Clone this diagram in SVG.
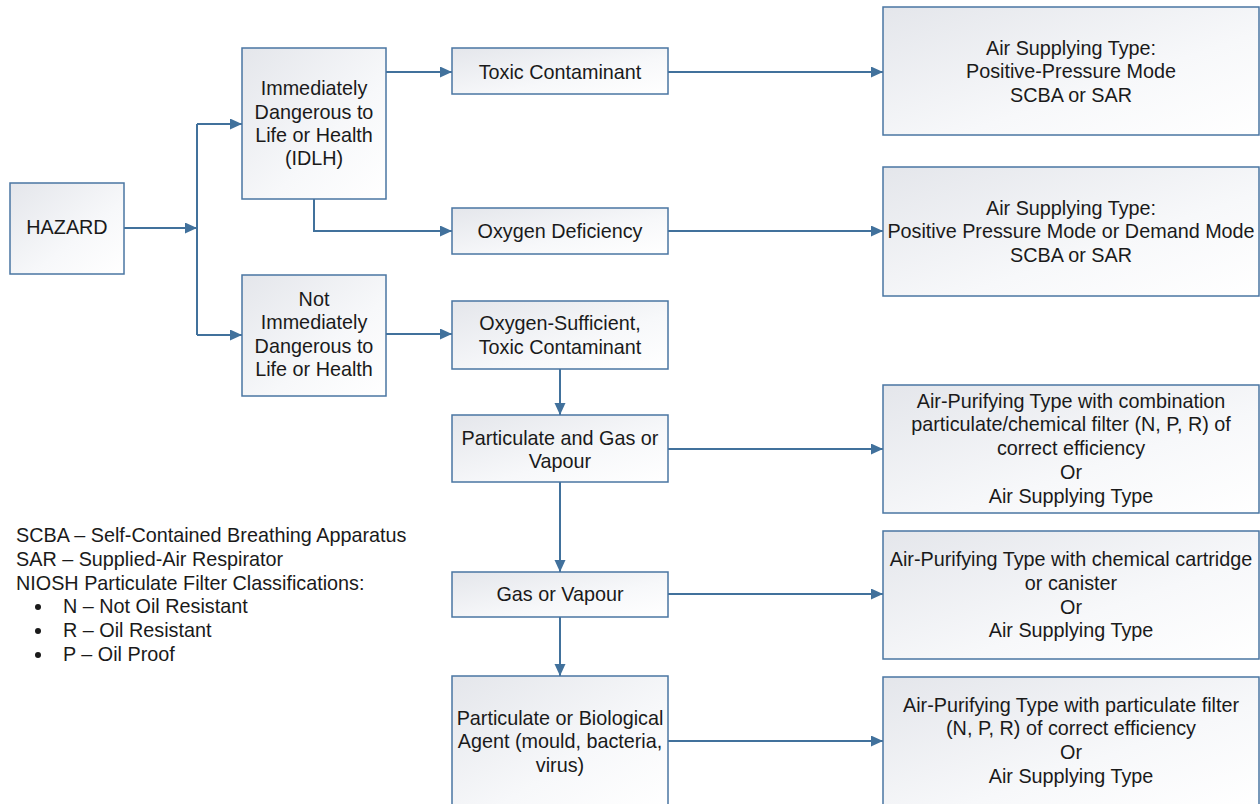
<svg xmlns="http://www.w3.org/2000/svg" width="1260" height="804" viewBox="0 0 1260 804">
<style>
.box{stroke:#4a76a2;stroke-width:1.5;fill:url(#g)}
.t{font-family:"Liberation Sans",Arial,sans-serif;font-size:19.8px;fill:#1a1a1a;text-anchor:middle}
.l{font-family:"Liberation Sans",Arial,sans-serif;font-size:19.8px;fill:#1a1a1a}
.c{stroke:#41719c;stroke-width:2;fill:none;marker-end:url(#a)}
</style>
<defs>
<linearGradient id="g" x1="0" y1="0" x2="1" y2="1">
<stop offset="0" stop-color="#e4e6eb"/>
<stop offset="0.6" stop-color="#f7f8fa"/>
<stop offset="1" stop-color="#ffffff"/>
</linearGradient>
<marker id="a" markerUnits="userSpaceOnUse" markerWidth="13" markerHeight="12" refX="12" refY="5.5" orient="auto">
<path d="M0,0 L12,5.5 L0,11 z" fill="#41719c"/>
</marker>
</defs>
<rect width="1260" height="804" fill="#ffffff"/>
<g id="connectors">
<path class="c" d="M124,228 H197"/>
<path d="M197,124 V335" stroke="#41719c" stroke-width="2" fill="none"/>
<path class="c" d="M197,124 H242"/>
<path class="c" d="M197,335 H242"/>
<path class="c" d="M386,72 H452"/>
<path class="c" d="M314,199 V231 H452"/>
<path class="c" d="M668,72 H883"/>
<path class="c" d="M668,231 H883"/>
<path class="c" d="M386,334 H452"/>
<path class="c" d="M560,369 V415"/>
<path class="c" d="M668,449 H883"/>
<path class="c" d="M560,482 V572"/>
<path class="c" d="M668,594 H883"/>
<path class="c" d="M560,617 V676"/>
<path class="c" d="M668,741 H883"/>
</g>
<g id="hazard"><rect class="box" x="10" y="183" width="114" height="91"/><text class="t" x="67" y="234">HAZARD</text></g>
<g id="idlh"><rect class="box" x="242" y="48" width="144" height="151"/>
<text class="t" x="314" y="95">Immediately</text><text class="t" x="314" y="119">Dangerous to</text><text class="t" x="314" y="142">Life or Health</text><text class="t" x="314" y="165">(IDLH)</text></g>
<g id="toxic"><rect class="box" x="452" y="48" width="216" height="46"/><text class="t" x="560" y="79">Toxic Contaminant</text></g>
<g id="air1"><rect class="box" x="883" y="7" width="376" height="128"/>
<text class="t" x="1071" y="55">Air Supplying Type:</text><text class="t" x="1071" y="78">Positive-Pressure Mode</text><text class="t" x="1071" y="102">SCBA or SAR</text></g>
<g id="oxygen-def"><rect class="box" x="452" y="208" width="216" height="46"/><text class="t" x="560" y="238">Oxygen Deficiency</text></g>
<g id="air2"><rect class="box" x="883" y="167" width="376" height="129"/>
<text class="t" x="1071" y="215">Air Supplying Type:</text><text class="t" x="1071" y="238">Positive Pressure Mode or Demand Mode</text><text class="t" x="1071" y="262">SCBA or SAR</text></g>
<g id="not-idlh"><rect class="box" x="242" y="275" width="144" height="121"/>
<text class="t" x="314" y="306">Not</text><text class="t" x="314" y="329">Immediately</text><text class="t" x="314" y="353">Dangerous to</text><text class="t" x="314" y="376">Life or Health</text></g>
<g id="oxygen-suff"><rect class="box" x="452" y="301" width="216" height="68"/>
<text class="t" x="560" y="330">Oxygen-Sufficient,</text><text class="t" x="560" y="354">Toxic Contaminant</text></g>
<g id="part-gas"><rect class="box" x="452" y="415" width="216" height="67"/>
<text class="t" x="560" y="445">Particulate and Gas or</text><text class="t" x="560" y="468">Vapour</text></g>
<g id="air3"><rect class="box" x="883" y="385" width="376" height="128"/>
<text class="t" x="1071" y="408">Air-Purifying Type with combination</text><text class="t" x="1071" y="431">particulate/chemical filter (N, P, R) of</text><text class="t" x="1071" y="455">correct efficiency</text><text class="t" x="1071" y="479">Or</text><text class="t" x="1071" y="503">Air Supplying Type</text></g>
<g id="gas"><rect class="box" x="452" y="572" width="216" height="45"/><text class="t" x="560" y="601">Gas or Vapour</text></g>
<g id="air4"><rect class="box" x="883" y="531" width="376" height="128"/>
<text class="t" x="1071" y="566">Air-Purifying Type with chemical cartridge</text><text class="t" x="1071" y="590">or canister</text><text class="t" x="1071" y="614">Or</text><text class="t" x="1071" y="637">Air Supplying Type</text></g>
<g id="part-bio"><rect class="box" x="452" y="676" width="216" height="132"/>
<text class="t" x="560" y="725">Particulate or Biological</text><text class="t" x="560" y="748">Agent (mould, bacteria,</text><text class="t" x="560" y="772">virus)</text></g>
<g id="air5"><rect class="box" x="883" y="677" width="376" height="131"/>
<text class="t" x="1071" y="712">Air-Purifying Type with particulate filter</text><text class="t" x="1071" y="735">(N, P, R) of correct efficiency</text><text class="t" x="1071" y="759">Or</text><text class="t" x="1071" y="783">Air Supplying Type</text></g>
<g id="legend">
<text class="l" x="16" y="542">SCBA – Self-Contained Breathing Apparatus</text>
<text class="l" x="16" y="566">SAR – Supplied-Air Respirator</text>
<text class="l" x="16" y="590">NIOSH Particulate Filter Classifications:</text>
<circle cx="38" cy="607" r="3" fill="#1a1a1a"/><text class="l" x="63" y="613">N – Not Oil Resistant</text>
<circle cx="38" cy="631" r="3" fill="#1a1a1a"/><text class="l" x="63" y="637">R – Oil Resistant</text>
<circle cx="38" cy="655" r="3" fill="#1a1a1a"/><text class="l" x="63" y="661">P – Oil Proof</text>
</g>
</svg>
